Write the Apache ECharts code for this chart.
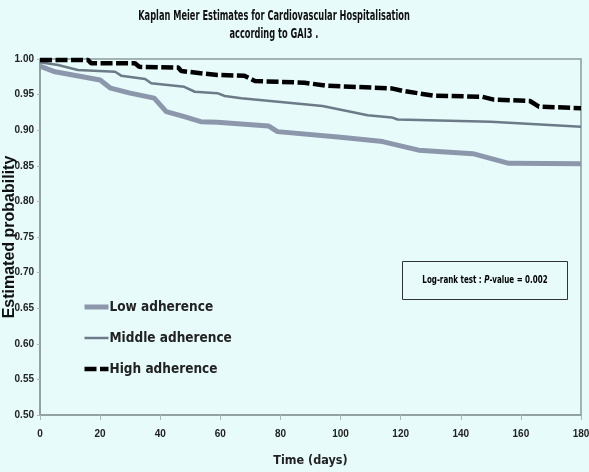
<!DOCTYPE html>
<html><head><meta charset="utf-8">
<script src="https://cdn.jsdelivr.net/npm/echarts@6/dist/echarts.min.js"></script>
<style>html,body{margin:0;padding:0;background:#e7fbfb}#c{width:589px;height:472px}</style>
</head><body><div id="c"></div>
<script>
const titleLines = ['Kaplan Meier Estimates for Cardiovascular Hospitalisation', 'according to GAI3 .'];
const seriesNames = ['Low adherence', 'Middle adherence', 'High adherence'];
const xTicks = [0, 20, 40, 60, 80, 100, 120, 140, 160, 180];
const yTicks = [0.50, 0.55, 0.60, 0.65, 0.70, 0.75, 0.80, 0.85, 0.90, 0.95, 1.00];

const lowDays = [0, 5, 20, 23.5, 30, 38, 42, 48, 53.5, 59, 76, 79, 100, 114, 121, 126, 144, 156, 180];
const lowVals = [0.990, 0.982, 0.9705, 0.959, 0.952, 0.945, 0.926, 0.919, 0.912, 0.911, 0.906, 0.898, 0.890, 0.884, 0.877, 0.872, 0.867, 0.8535, 0.853];

const midDays = [0, 6, 12.6, 25, 27, 35, 37, 48, 51.5, 59, 61.5, 67, 94, 109, 117, 119, 150, 180];
const midVals = [0.9955, 0.9916, 0.9846, 0.982, 0.9766, 0.972, 0.966, 0.961, 0.954, 0.952, 0.948, 0.945, 0.934, 0.921, 0.918, 0.915, 0.912, 0.905];

const highDays = [0, 16, 17, 31.6, 33, 46, 47, 59, 68, 71.5, 88, 95, 117, 121, 131, 147, 151, 163, 166, 180];
const highVals = [0.9986, 0.9986, 0.994, 0.994, 0.989, 0.988, 0.983, 0.9775, 0.9766, 0.969, 0.9667, 0.9626, 0.9587, 0.955, 0.9485, 0.947, 0.943, 0.941, 0.933, 0.931];

const pText = 'Log-rank test : ';
const pItalic = 'P';
const pRest = '-value = 0.002';

const zip = (a, b) => a.map((d, i) => [d, b[i]]);
const NARROW = '"DejaVu Sans Condensed", sans-serif';
const ARIAL = '"Liberation Sans", Arial, sans-serif';
const axisGrey = '#8d9c9c';

const chart = echarts.init(document.getElementById('c'));
chart.setOption({
  backgroundColor: '#e7fbfb',
  animation: false,
  grid: { left: 40, right: 8, top: 59, bottom: 57, containLabel: false, outerBoundsMode: 'none',
          show: true, borderColor: axisGrey, borderWidth: 1.5, backgroundColor: 'transparent' },
  xAxis: {
    type: 'value', min: xTicks[0], max: xTicks[xTicks.length - 1], interval: 20,
    name: 'Time (days)', nameLocation: 'middle', nameGap: 39, nameMoveOverlap: false,
    nameTextStyle: { fontFamily: NARROW, fontWeight: 'bold', fontSize: 12.5, color: '#222' },
    axisLine: { lineStyle: { color: axisGrey, width: 1.5 } },
    axisTick: { show: true, length: 5, lineStyle: { color: '#aab8b8' } },
    axisLabel: { margin: 14, fontFamily: ARIAL, fontWeight: 'bold', fontSize: 10, color: '#222' },
    splitLine: { show: false }
  },
  yAxis: {
    type: 'value', min: yTicks[0], max: yTicks[yTicks.length - 1], interval: 0.05,
    name: 'Estimated probability', nameLocation: 'middle', nameGap: 22, nameRotate: 90, nameMoveOverlap: false,
    nameTextStyle: { fontFamily: ARIAL, fontWeight: 'bold', fontSize: 16, color: '#111' },
    axisLine: { show: true, lineStyle: { color: axisGrey, width: 1.5 } },
    axisTick: { show: true, length: 3, lineStyle: { color: '#aab8b8' } },
    axisLabel: { margin: 6, fontFamily: ARIAL, fontWeight: 'bold', fontSize: 10, color: '#222', formatter: v => v.toFixed(2) },
    splitLine: { show: false }
  },
  legend: {
    orient: 'vertical', left: 77, top: 295, itemWidth: 24, itemHeight: 14, itemGap: 17,
    data: seriesNames,
    itemStyle: { opacity: 0 },
    lineStyle: { width: 'inherit' },
    textStyle: { fontFamily: NARROW, fontWeight: 'bold', fontSize: 13.5, color: '#222', padding: [0, 0, 0, -4] }
  },
  series: [
    { name: seriesNames[0], type: 'line', data: zip(lowDays, lowVals), showSymbol: false, symbol: 'none',
      lineStyle: { color: '#8d97ac', width: 5 }, itemStyle: { color: '#8d97ac' } },
    { name: seriesNames[1], type: 'line', data: zip(midDays, midVals), showSymbol: false, symbol: 'none',
      lineStyle: { color: '#6c7b87', width: 2.5 }, itemStyle: { color: '#6c7b87' } },
    { name: seriesNames[2], type: 'line', data: zip(highDays, highVals), showSymbol: false, symbol: 'none',
      lineStyle: { color: '#000', width: 4.5, type: [12, 3.5] }, itemStyle: { color: '#000' } }
  ],
  graphic: [
    { type: 'text', x: 274, y: 9, scaleX: 0.68, style: { text: titleLines[0], textAlign: 'center', font: 'bold 13.5px ' + NARROW, fill: '#111' } },
    { type: 'text', x: 274, y: 27, scaleX: 0.68, style: { text: titleLines[1], textAlign: 'center', font: 'bold 13.5px ' + NARROW, fill: '#111' } },
    { type: 'rect', shape: { x: 402.5, y: 261.5, width: 165, height: 38 }, style: { fill: 'transparent', stroke: '#333', lineWidth: 1 } },
    { type: 'text', x: 485, y: 280, scaleX: 0.72, style: {
        text: '{n|' + pText + '}{i|' + pItalic + '}{n|' + pRest + '}',
        textAlign: 'center', textVerticalAlign: 'middle',
        rich: { n: { fontFamily: NARROW, fontSize: 11, fontWeight: 'bold', color: '#111' },
                i: { fontFamily: NARROW, fontSize: 11, fontWeight: 'bold', fontStyle: 'italic', color: '#111' } } } }
  ]
});
</script></body></html>
